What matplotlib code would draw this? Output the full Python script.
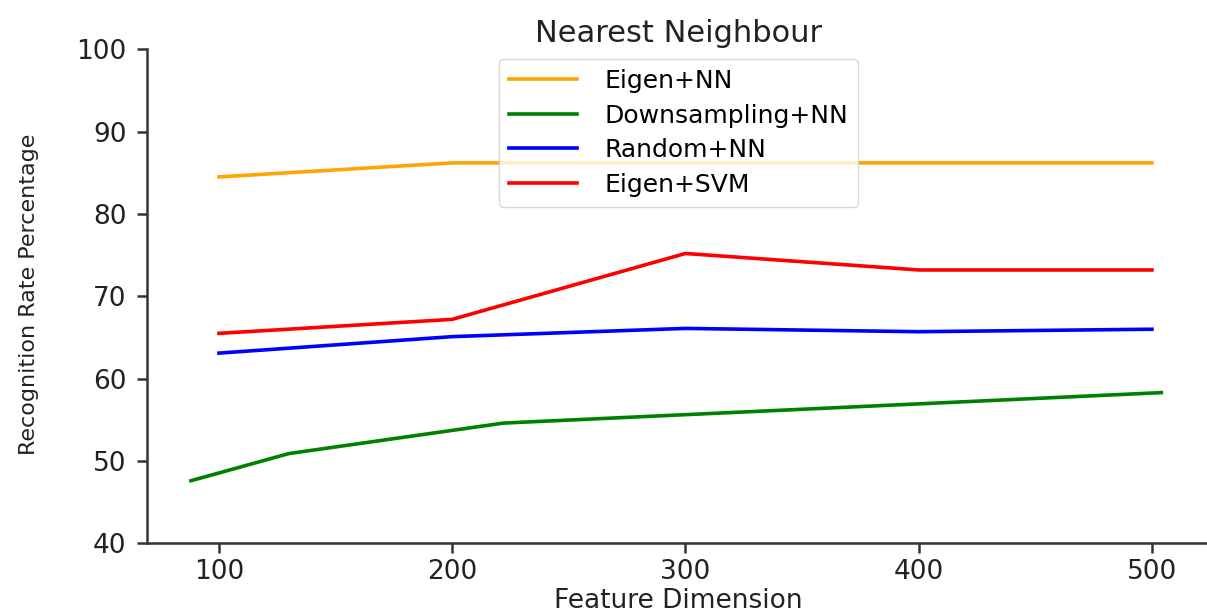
"""Nearest Neighbour: recognition rate vs feature dimension."""

import matplotlib

matplotlib.use("Agg")
import matplotlib.pyplot as plt

# values
dims = [100, 200, 300, 400, 500]
eigen_nn = [84.5, 86.2, 86.2, 86.2, 86.2]
random_nn = [63.1, 65.1, 66.1, 65.7, 66.0]
eigen_svm = [65.5, 67.2, 75.2, 73.2, 73.2]

down_dims = [88, 130, 222, 504]
down_nn = [47.6, 50.9, 54.6, 58.3]

yticks = [40, 50, 60, 70, 80, 90, 100]
xticks = [100, 200, 300, 400, 500]

fig = plt.figure(figsize=(12.07, 6.13), dpi=100)
ax = fig.add_axes([0.1215, 0.1137, 0.8812, 0.8059])

lw = 2.6
ax.plot(dims, eigen_nn, color="orange", lw=lw, label="Eigen+NN")
ax.plot(down_dims, down_nn, color="green", lw=lw, label="Downsampling+NN")
ax.plot(dims, random_nn, color="blue", lw=lw, label="Random+NN")
ax.plot(dims, eigen_svm, color="red", lw=lw, label="Eigen+SVM")

ax.set_xlim(69, 525)
ax.set_ylim(40, 100)
ax.set_xticks(xticks)
ax.set_yticks(yticks)
ax.tick_params(labelsize=19, length=7.5, width=1.8, colors="#333333", labelcolor="#222222")
ax.tick_params(axis="y", pad=7)
ax.tick_params(axis="x", pad=4)
for side in ("top", "right"):
    ax.spines[side].set_visible(False)
for side in ("left", "bottom"):
    ax.spines[side].set_linewidth(1.8)
    ax.spines[side].set_color("#333333")

ax.set_title("Nearest Neighbour", fontsize=22, color="#222222", pad=5)
ax.set_xlabel("Feature Dimension", fontsize=19, color="#222222", labelpad=2)
ax.set_ylabel("Recognition Rate Percentage", fontsize=16, color="#222222")
ax.yaxis.set_label_coords(-0.101, 0.505)

ax.legend(loc="upper center", fontsize=18, frameon=True, handlelength=2.7,
          handletextpad=1.1, borderpad=0.4, labelspacing=0.42,
          borderaxespad=0.2, bbox_to_anchor=(0.5, 0.99))

fig.savefig("out.png", dpi=100)
